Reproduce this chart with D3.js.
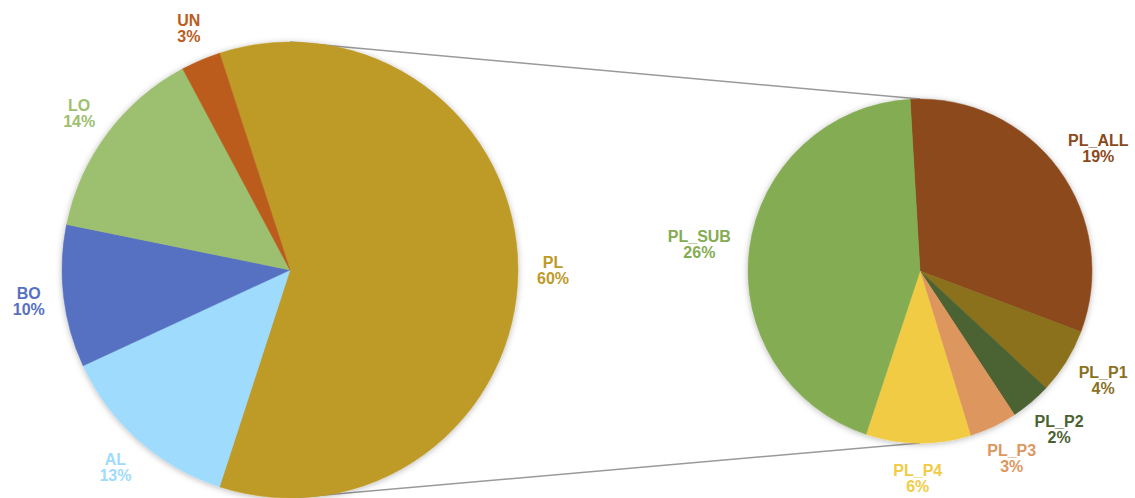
<!DOCTYPE html>
<html>
<head>
<meta charset="utf-8">
<script src="https://cdn.jsdelivr.net/npm/d3@7"></script>
<style>
  body { margin: 0; background: #fff; }
  text { font-family: "Liberation Sans", Arial, Helvetica, sans-serif; font-weight: bold; font-size: 16px; }
</style>
</head>
<body>
<svg id="chart"></svg>
<script>
// main pie (PL gets split out into the second pie)
var mainLabels = ["PL", "AL", "BO", "LO", "UN"];
var mainColors = ["#BE9A27", "#9FDBFC", "#5671C1", "#9DC06F", "#BB5C1E"];
var restValues = [13.1, 10.1, 14.0, 2.8];   // AL, BO, LO, UN

// second pie, the PL breakdown
var subLabels = ["PL_ALL", "PL_P1", "PL_P2", "PL_P3", "PL_P4", "PL_SUB"];
var subValues = [19.0, 3.7, 2.3, 2.7, 5.9, 26.4];
var subColors = ["#8B4A1D", "#8B711F", "#4B6232", "#DE965F", "#F2CB44", "#84AC52"];

var width = 1135, height = 498;
var plTotal = d3.sum(subValues);
var mainValues = [plTotal].concat(restValues);

var svg = d3.select("#chart").attr("width", width).attr("height", height);

var defs = svg.append("defs");
defs.append("filter").attr("id", "shadow")
    .attr("x", "-10%").attr("y", "-10%").attr("width", "120%").attr("height", "120%")
  .append("feDropShadow")
    .attr("dx", 0).attr("dy", 1).attr("stdDeviation", 3)
    .attr("flood-color", "#000").attr("flood-opacity", 0.28);

var left = {cx: 290, cy: 270, r: 228};
var right = {cx: 920, cy: 271, r: 172};

var rad = Math.PI / 180;
// PL slice is centred on the right side (90deg)
var mainStart = (90 - plTotal / d3.sum(mainValues) * 180) * rad;
var subStart = -3.3 * rad;

var mainData = mainLabels.map(function(d, i) { return {name: d, value: mainValues[i], color: mainColors[i]}; });
var subData = subLabels.map(function(d, i) { return {name: d, value: subValues[i], color: subColors[i]}; });

// series lines, drawn behind the pies
var lines = svg.append("g");
[[-1, -1], [1, 1]].forEach(function(s) {
    lines.append("line")
        .attr("x1", left.cx).attr("y1", left.cy + s[0] * left.r)
        .attr("x2", right.cx).attr("y2", right.cy + s[1] * right.r)
        .attr("stroke", "#9a9a9a").attr("stroke-width", 1.5);
});

function drawPie(data, pos, start) {
    var pie = d3.pie().sort(null).value(function(d) { return d.value; })
        .startAngle(start).endAngle(start + 2 * Math.PI);
    var arc = d3.arc().innerRadius(0).outerRadius(pos.r);
    var g = svg.append("g").attr("transform", "translate(" + pos.cx + "," + pos.cy + ")");
    var arcs = pie(data);

    g.append("g").attr("filter", "url(#shadow)")
      .selectAll("path").data(arcs).enter().append("path")
        .attr("d", arc)
        .attr("fill", function(d) { return d.data.color; })
        .attr("stroke", function(d) { return d.data.color; })
        .attr("stroke-width", 0.5);

    // labels sit just outside the edge, box pushed out along the mid angle
    var pad = 19, halfH = 16;
    var lab = g.selectAll("text.lab").data(arcs).enter().append("text")
        .attr("class", "lab")
        .attr("text-anchor", "middle")
        .attr("fill", function(d) { return d.data.color; });
    lab.append("tspan").attr("class", "l1").text(function(d) { return d.data.name; });
    lab.append("tspan").attr("class", "l2").text(function(d) { return Math.round(d.data.value) + "%"; });

    lab.each(function(d) {
        var t = d3.select(this);
        var w = Math.max(t.select(".l1").node().getComputedTextLength(),
                         t.select(".l2").node().getComputedTextLength());
        var a = (d.startAngle + d.endAngle) / 2;
        var sx = Math.sin(a), sy = -Math.cos(a);
        var x = (pos.r + pad) * sx + sx * w / 2;
        var y = (pos.r + pad) * sy + sy * halfH;
        t.select(".l1").attr("x", x).attr("y", y - 2);
        t.select(".l2").attr("x", x).attr("y", y + 14);
    });
}

drawPie(mainData, left, mainStart);
drawPie(subData, right, subStart);
</script>
</body>
</html>
